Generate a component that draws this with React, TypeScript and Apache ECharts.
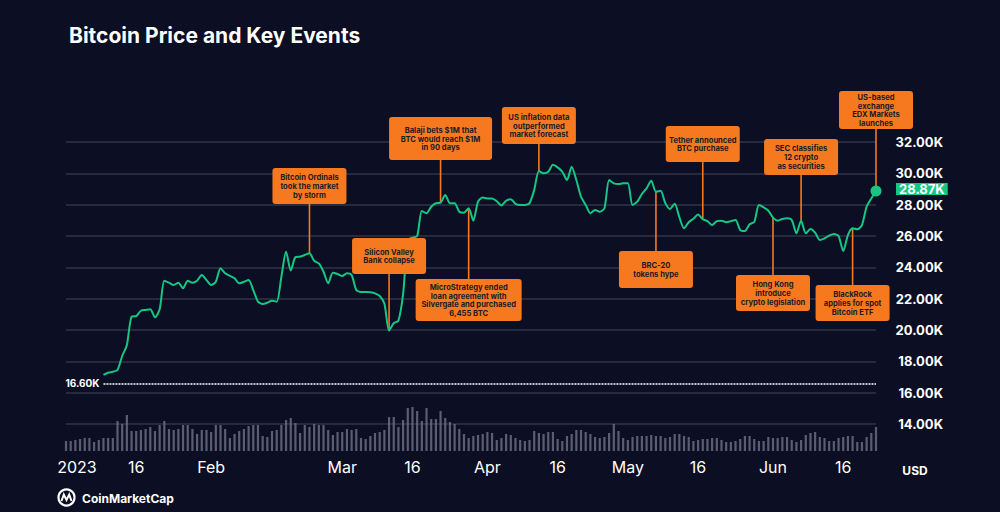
import React, { useEffect, useRef } from "react";
import * as echarts from "echarts";

// ---------- data ----------
const START_DATE = "2023-01-01";
const DAY_COUNT = 174;
const DATES: string[] = (() => {
  const out: string[] = [];
  const d0 = new Date(START_DATE + "T00:00:00Z");
  for (let i = 0; i < DAY_COUNT; i++) {
    const d = new Date(d0.getTime() + i * 86400000);
    out.push(d.toISOString().slice(0, 10));
  }
  return out;
})();

// BTC price in USD (daily); line starts on Jan 9
const PRICE: (number | null)[] = [
  null, null, null, null, null, null, null, null,
  17130, 17270, 17340, 17450, 18340, 19040, 20850, 20890, 21230, 21280,
  21320, 20810, 21320, 23150, 23020, 22870, 23020, 22660, 23150, 23020,
  23150, 23510, 23190, 22870, 23080, 23940, 23620, 23450, 23300, 22980,
  23080, 23190, 22550, 21810, 21660, 21740, 21870, 21810, 23400, 25000,
  23800, 24650, 24680, 24790, 24900, 24420, 24250, 23720, 22980, 23650,
  23570, 23450, 23620, 23510, 22550, 22430, 22430, 22410, 22340, 22170,
  21700, 19960, 20430, 20600, 22300, 25740, 25900, 26000, 27600, 27450,
  27870, 28090, 28130, 28620, 28090, 28090, 27550, 27490, 27770, 26980,
  28200, 28450, 28400, 28400, 28220, 27950, 28250, 28350, 28050, 27980,
  27980, 28100, 28940, 30150, 30000, 30100, 30550, 30380, 30100, 29570,
  30420, 29570, 28510, 27980, 27450, 27660, 27550, 27770, 29570, 29360,
  29320, 29360, 29360, 27980, 28190, 28680, 29040, 29530, 28830, 28890,
  28100, 27730, 28060, 27200, 26490, 26880, 27100, 27380, 27070, 26950,
  26700, 26950, 26980, 26880, 26950, 27020, 26380, 26320, 26750, 26900,
  27980, 27830, 27620, 27170, 26980, 27090, 27130, 27020, 26170, 26980,
  26170, 26450, 26210, 25740, 25850, 26020, 26130, 26000, 25040, 26060,
  26490, 26430, 26700, 27870, 28400, 28870,
];

// daily volume (relative units)
const VOLUME: number[] = [
  10, 10, 11, 12, 13, 13, 9, 11, 13, 13, 13, 30, 27, 36, 20, 20, 21, 22,
  24, 20, 26, 30, 22, 21, 22, 26, 26, 22, 17, 21, 21, 19, 26, 26, 22, 13,
  17, 20, 22, 25, 26, 26, 15, 14, 20, 21, 26, 31, 33, 28, 18, 26, 24, 27,
  26, 26, 21, 16, 19, 19, 22, 21, 22, 13, 12, 15, 18, 19, 21, 34, 34, 24,
  31, 43, 44, 40, 30, 43, 32, 32, 40, 33, 29, 27, 22, 17,
  13, 15, 16, 17, 19, 18, 11, 13, 17, 16, 13, 11, 10, 11, 20, 18, 17, 19,
  19, 12, 10, 15, 17, 21, 21, 19, 17, 14, 13, 14, 18, 27, 20, 13, 11, 14,
  15, 15, 15, 16, 15, 15, 13, 14, 17, 17, 15, 14, 10, 11, 12, 12, 13, 13,
  11, 9, 9, 10, 12, 15, 15, 12, 10, 10, 14, 13, 13, 14, 14, 11, 9, 11, 16,
  18, 19, 14, 13, 10, 10, 13, 14, 15, 15, 9, 9, 14, 18, 24,
];

const OPEN_PRICE = 16600;
const LAST_PRICE = 28870;

const Y_MIN = 14000;
const Y_MAX = 32000;
const Y_STEP = 2000;

const TICK_LABELS: Record<string, string> = {
  "2023-01-01": "2023",
  "2023-01-16": "16",
  "2023-02-01": "Feb",
  "2023-03-01": "Mar",
  "2023-03-16": "16",
  "2023-04-01": "Apr",
  "2023-04-16": "16",
  "2023-05-01": "May",
  "2023-05-16": "16",
  "2023-06-01": "Jun",
  "2023-06-16": "16",
};

const EVENT_DATES = [
  "2023-02-22", "2023-03-11", "2023-03-22", "2023-03-28", "2023-04-12",
  "2023-05-07", "2023-05-17", "2023-06-01", "2023-06-07", "2023-06-18",
  "2023-06-23",
];
const EVENT_TEXTS = [
  "Bitcoin Ordinals\ntook the market\nby storm",
  "Silicon Valley\nBank collapse",
  "Balaji bets $1M that\nBTC would reach $1M\nin 90 days",
  "MicroStrategy ended\nloan agreement with\nSilvergate and purchased\n6,455 BTC",
  "US inflation data\noutperformed\nmarket forecast",
  "BRC-20\ntokens hype",
  "Tether announced\nBTC purchase",
  "Hong Kong\nintroduce\ncrypto legislation",
  "SEC classifies\n12 crypto\nas securities",
  "BlackRock\napplies for spot\nBitcoin ETF",
  "US-based\nexchange\nEDX Markets\nlaunches",
];
// layout of the callout boxes (pixels): top, height, width
const EVENT_BOXES = [
  { top: 168, h: 36, w: 74 },
  { top: 238, h: 36, w: 74 },
  { top: 117, h: 43, w: 103 },
  { top: 279, h: 42, w: 106 },
  { top: 107, h: 37, w: 74 },
  { top: 251, h: 37, w: 74 },
  { top: 126, h: 36, w: 74 },
  { top: 275, h: 36, w: 74 },
  { top: 139, h: 36, w: 74 },
  { top: 285, h: 36, w: 74 },
  { top: 91, h: 38, w: 74 },
];

// ---------- styles ----------
const BG = "#0c0e23";
const GREEN = "#16c784";
const ORANGE = "#f7791f";
const GRID = "#262a3e";
const FONT = "Inter";

const fmtK = (v: number) => (v / 1000).toFixed(2) + "K";

export default function App() {
  const ref = useRef<HTMLDivElement>(null);

  useEffect(() => {
    if (!ref.current) return;
    const chart = echarts.init(ref.current, null, { renderer: "svg" });
    const firstIdx = PRICE.findIndex((v) => v != null);

    const option: any = {
      animation: false,
      backgroundColor: BG,
      textStyle: { fontFamily: FONT },
      grid: [
        { left: 66, right: 124, top: 142, bottom: 88 },
        { left: 66, right: 124, top: 406, bottom: 61 },
      ],
      xAxis: [
        {
          type: "category",
          gridIndex: 0,
          data: DATES,
          boundaryGap: false,
          show: false,
        },
        {
          type: "category",
          gridIndex: 1,
          boundaryGap: false,
          data: DATES.map((d) =>
            d === START_DATE
              ? { value: d, textStyle: { padding: [0, 0, 0, 22] } }
              : d
          ),
          axisLine: { show: false },
          axisTick: { show: false },
          splitLine: { show: false },
          axisLabel: {
            interval: (_i: number, v: string) => TICK_LABELS[v] != null,
            formatter: (v: string) => TICK_LABELS[v] || "",
            color: "#ffffff",
            fontSize: 16,
            fontFamily: FONT,
            margin: 8,
          },
        },
      ],
      yAxis: [
        {
          type: "value",
          gridIndex: 0,
          position: "right",
          min: Y_MIN,
          max: Y_MAX,
          interval: Y_STEP,
          axisLine: { show: false },
          axisTick: { show: false },
          splitLine: { lineStyle: { color: GRID, width: 2 } },
          axisLabel: {
            formatter: (v: number) => fmtK(v),
            color: "#ffffff",
            fontSize: 13,
            fontWeight: "bold",
            fontFamily: FONT,
            align: "right",
            margin: 67,
          },
        },
        {
          type: "value",
          gridIndex: 1,
          min: 0,
          max: 45,
          show: false,
          splitLine: { show: false },
        },
      ],
      series: [
        {
          type: "bar",
          xAxisIndex: 1,
          yAxisIndex: 1,
          data: VOLUME,
          barWidth: 2.2,
          itemStyle: { color: "rgba(118,122,142,0.75)" },
          silent: true,
        },
        {
          type: "line",
          xAxisIndex: 0,
          yAxisIndex: 0,
          data: PRICE,
          showSymbol: false,
          smooth: 0.25,
          lineStyle: { color: GREEN, width: 2 },
          z: 3,
          markLine: {
            silent: true,
            symbol: ["none", "none"],
            data: [
              [
                {
                  coord: [DATES[firstIdx], OPEN_PRICE],
                  lineStyle: { color: "#c3c6d0", width: 2, type: [2, 1] },
                  label: {
                    show: true,
                    position: "start",
                    distance: 4,
                    formatter: fmtK(OPEN_PRICE),
                    color: "#ffffff",
                    fontSize: 10,
                    fontWeight: "bold",
                    fontFamily: FONT,
                  },
                },
                { coord: [DATES[DATES.length - 1], OPEN_PRICE] },
              ],
              {
                yAxis: LAST_PRICE,
                lineStyle: { color: "rgba(0,0,0,0)", width: 0 },
                label: {
                  show: true,
                  position: "end",
                  distance: 20,
                  formatter: fmtK(LAST_PRICE),
                  color: "#ffffff",
                  backgroundColor: GREEN,
                  padding: [0, 3, 0, 3],
                  lineHeight: 12,
                  offset: [0, -2],
                  fontSize: 13,
                  fontWeight: "bold",
                  fontFamily: FONT,
                },
              },
            ],
          },
          markPoint: {
            silent: true,
            symbol: "circle",
            symbolSize: 11,
            itemStyle: { color: GREEN },
            label: { show: false },
            data: [{ coord: [DATES[DATES.length - 1], LAST_PRICE] }],
          },
        },
      ],
    };
    chart.setOption(option);

    const els: any[] = [];
    // title
    els.push({
      type: "text",
      x: 69,
      y: 35,
      style: {
        text: "Bitcoin Price and Key Events",
        fill: "#ffffff",
        font: `bold 21px ${FONT}`,
        textAlign: "left",
        textVerticalAlign: "middle",
      },
    });
    // callouts
    EVENT_DATES.forEach((date, i) => {
      const idx = DATES.indexOf(date);
      const price = PRICE[idx] as number;
      const p = chart.convertToPixel({ xAxisIndex: 0, yAxisIndex: 0 }, [date, price]) as number[];
      const px = p[0];
      const py = p[1];
      const b = EVENT_BOXES[i];
      const y0 = b.top;
      const from = y0 + b.h < py ? y0 + b.h : y0;
      els.push({
        type: "line",
        z: 1,
        silent: true,
        shape: { x1: px, y1: from, x2: px, y2: py },
        style: { stroke: ORANGE, lineWidth: 1.6 },
      });
      els.push({
        type: "rect",
        z: 10,
        silent: true,
        shape: { x: px - b.w / 2, y: y0, width: b.w, height: b.h, r: 3 },
        style: { fill: ORANGE },
      });
      els.push({
        type: "text",
        z: 11,
        silent: true,
        x: px,
        y: y0 + b.h / 2 + 0.5,
        style: {
          text: EVENT_TEXTS[i],
          fill: "#1b1b22",
          font: `bold 7.6px ${FONT}`,
          lineHeight: 8.8,
          textAlign: "center",
          textVerticalAlign: "middle",
        },
      });
    });
    // USD
    els.push({
      type: "text",
      x: 915,
      y: 470,
      style: {
        text: "USD",
        fill: "#ffffff",
        font: `bold 12px ${FONT}`,
        textAlign: "center",
        textVerticalAlign: "middle",
      },
    });
    // CoinMarketCap logo
    els.push({
      type: "circle",
      shape: { cx: 66.5, cy: 497.5, r: 8 },
      style: { fill: "none", stroke: "#ffffff", lineWidth: 2.2 },
    });
    els.push({
      type: "polyline",
      shape: {
        points: [
          [61.5, 501],
          [63.8, 494.5],
          [66.5, 500],
          [69.2, 494.5],
          [71.5, 501],
        ],
      },
      style: { fill: "none", stroke: "#ffffff", lineWidth: 2 },
    });
    els.push({
      type: "text",
      x: 82,
      y: 498,
      style: {
        text: "CoinMarketCap",
        fill: "#ffffff",
        font: `bold 12px ${FONT}`,
        textAlign: "left",
        textVerticalAlign: "middle",
      },
    });
    chart.setOption({ graphic: els });

    return () => chart.dispose();
  }, []);

  return (
    <div
      ref={ref}
      style={{
        position: "fixed",
        left: 0,
        top: 0,
        width: 1000,
        height: 512,
        background: BG,
      }}
    />
  );
}
